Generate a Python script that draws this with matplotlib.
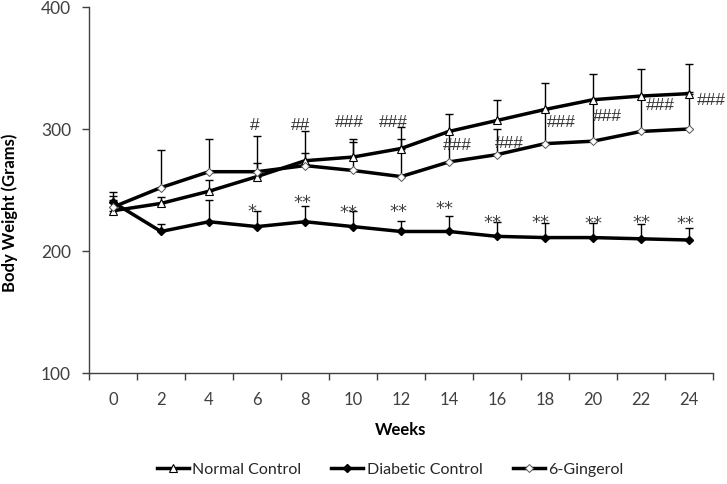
import matplotlib
matplotlib.use("Agg")
import matplotlib.pyplot as plt
import numpy as np
from matplotlib.lines import Line2D

weeks = ["0", "2", "4", "6", "8", "10", "12", "14", "16", "18", "20", "22", "24"]
normal = [233, 239, 249, 261, 274, 277, 284, 298, 307, 316, 324, 327, 329]
normal_err = [12, 5, 9, 11, 24, 12, 18, 14, 17, 22, 21, 22, 24]
diabetic = [240, 216, 224, 220, 224, 220, 216, 216, 212, 211, 211, 210, 209]
diabetic_err = [8, 6, 18, 13, 13, 13, 9, 13, 12, 12, 12, 12, 10]
gingerol = [236, 252, 265, 265, 270, 266, 261, 273, 279, 288, 290, 298, 300]
gingerol_err = [6, 31, 27, 29, 10, 26, 31, 25, 21, 28, 34, 29, 30]

hash_labels = ["", "", "", "#", "##", "###", "###", "###", "###", "###", "###", "###", "###"]
hash_y = [0, 0, 0, 304, 304, 306, 306, 287, 289, 306, 311, 320, 324]
hash_dx = [0, 0, 0, -0.05, -0.1, -0.08, -0.15, 0.18, 0.25, 0.35, 0.3, 0.4, 0.47]
star_labels = ["", "", "", "*", "**", "**", "**", "**", "**", "**", "**", "**", "**"]
star_y = [0, 0, 0, 233, 240, 232, 233, 235, 224, 224, 223, 224, 223]
star_dx = [0, 0, 0, -0.1, -0.05, -0.1, -0.05, -0.1, -0.1, -0.1, 0.02, 0.02, -0.08]

plt.rcParams['font.family'] = ['Lato', 'DejaVu Sans']

fig = plt.figure(figsize=(7.27, 4.85), dpi=100)
ax = fig.add_axes([89/727, 1-374/485, (713-89)/727, (374-8)/485])

x = np.arange(len(weeks))
zeros = np.zeros(len(weeks))

ax.errorbar(x, normal, yerr=[zeros, normal_err], fmt='none', ecolor='black',
            elinewidth=1, capsize=3, capthick=1, zorder=2)
ax.errorbar(x, gingerol, yerr=[zeros, gingerol_err], fmt='none', ecolor='black',
            elinewidth=1, capsize=3, capthick=1, zorder=2)
ax.errorbar(x, diabetic, yerr=[zeros, diabetic_err], fmt='none', ecolor='black',
            elinewidth=1, capsize=3, capthick=1, zorder=2)

ax.plot(x, normal, color='black', lw=2.5, marker='^', markersize=6,
        markerfacecolor='white', markeredgecolor='black', markeredgewidth=0.8, zorder=3)
ax.plot(x, diabetic, color='black', lw=2.5, marker='D', markersize=4.5,
        markerfacecolor='black', markeredgecolor='black', zorder=3)
ax.plot(x, gingerol, color='black', lw=2.5, marker='D', markersize=4.5,
        markerfacecolor='white', markeredgecolor='#555555', markeredgewidth=0.7, zorder=3)

for i in range(len(weeks)):
    if hash_labels[i]:
        ax.text(x[i] + hash_dx[i], hash_y[i], hash_labels[i], ha='center', va='center',
                fontsize=12.5, color='#333333', family='Liberation Sans', zorder=4,
                clip_on=False)
    if star_labels[i]:
        ax.text(x[i] + star_dx[i], star_y[i], star_labels[i], ha='center', va='center',
                fontsize=13, color='#404040', family='DejaVu Sans', zorder=4)

ax.set_xlim(-0.5, len(weeks) - 0.5)
ax.set_ylim(100, 400)
ax.set_yticks([100, 200, 300, 400])
ax.set_xticks(np.arange(-0.5, len(weeks), 1.0))
ax.set_xticklabels([])
ax.set_xticks(x, minor=True)
ax.set_xticklabels(weeks, minor=True)
ax.tick_params(axis='x', which='major', length=5, width=1, color='#404040', direction='out')
ax.tick_params(axis='x', which='minor', length=0, pad=13, labelsize=12, labelcolor='#404040')
ax.tick_params(axis='y', length=5, width=1, color='#404040', direction='out', pad=8,
               labelsize=12.5, labelcolor='#404040')

for s in ['top', 'right']:
    ax.spines[s].set_visible(False)
for s in ['left', 'bottom']:
    ax.spines[s].set_color('#404040')
    ax.spines[s].set_linewidth(1)

fig.text(10/727, 1-213/485, "Body Weight (Grams)", rotation=90, ha='center', va='center',
         fontsize=12, fontweight='bold', color='black')
fig.text(401/727, 1-430/485, "Weeks", ha='center', va='center',
         fontsize=12, fontweight='bold', color='black')

handles = [
    Line2D([], [], color='black', lw=2.5, marker='^', markersize=6, markerfacecolor='white',
           markeredgecolor='black', markeredgewidth=0.8),
    Line2D([], [], color='black', lw=2.5, marker='D', markersize=4.5, markerfacecolor='black'),
    Line2D([], [], color='black', lw=2.5, marker='D', markersize=4.5, markerfacecolor='white',
           markeredgecolor='#555555', markeredgewidth=0.7),
]
fig.legend(handles, ["Normal Control", "Diabetic Control", "6-Gingerol"], loc='center',
           bbox_to_anchor=(390/727, 1-470/485), ncol=3, frameon=False, fontsize=11.5,
           handlelength=2.0, handletextpad=0.2, columnspacing=1.9, labelcolor='#262626')

fig.savefig("out.png", dpi=100)
